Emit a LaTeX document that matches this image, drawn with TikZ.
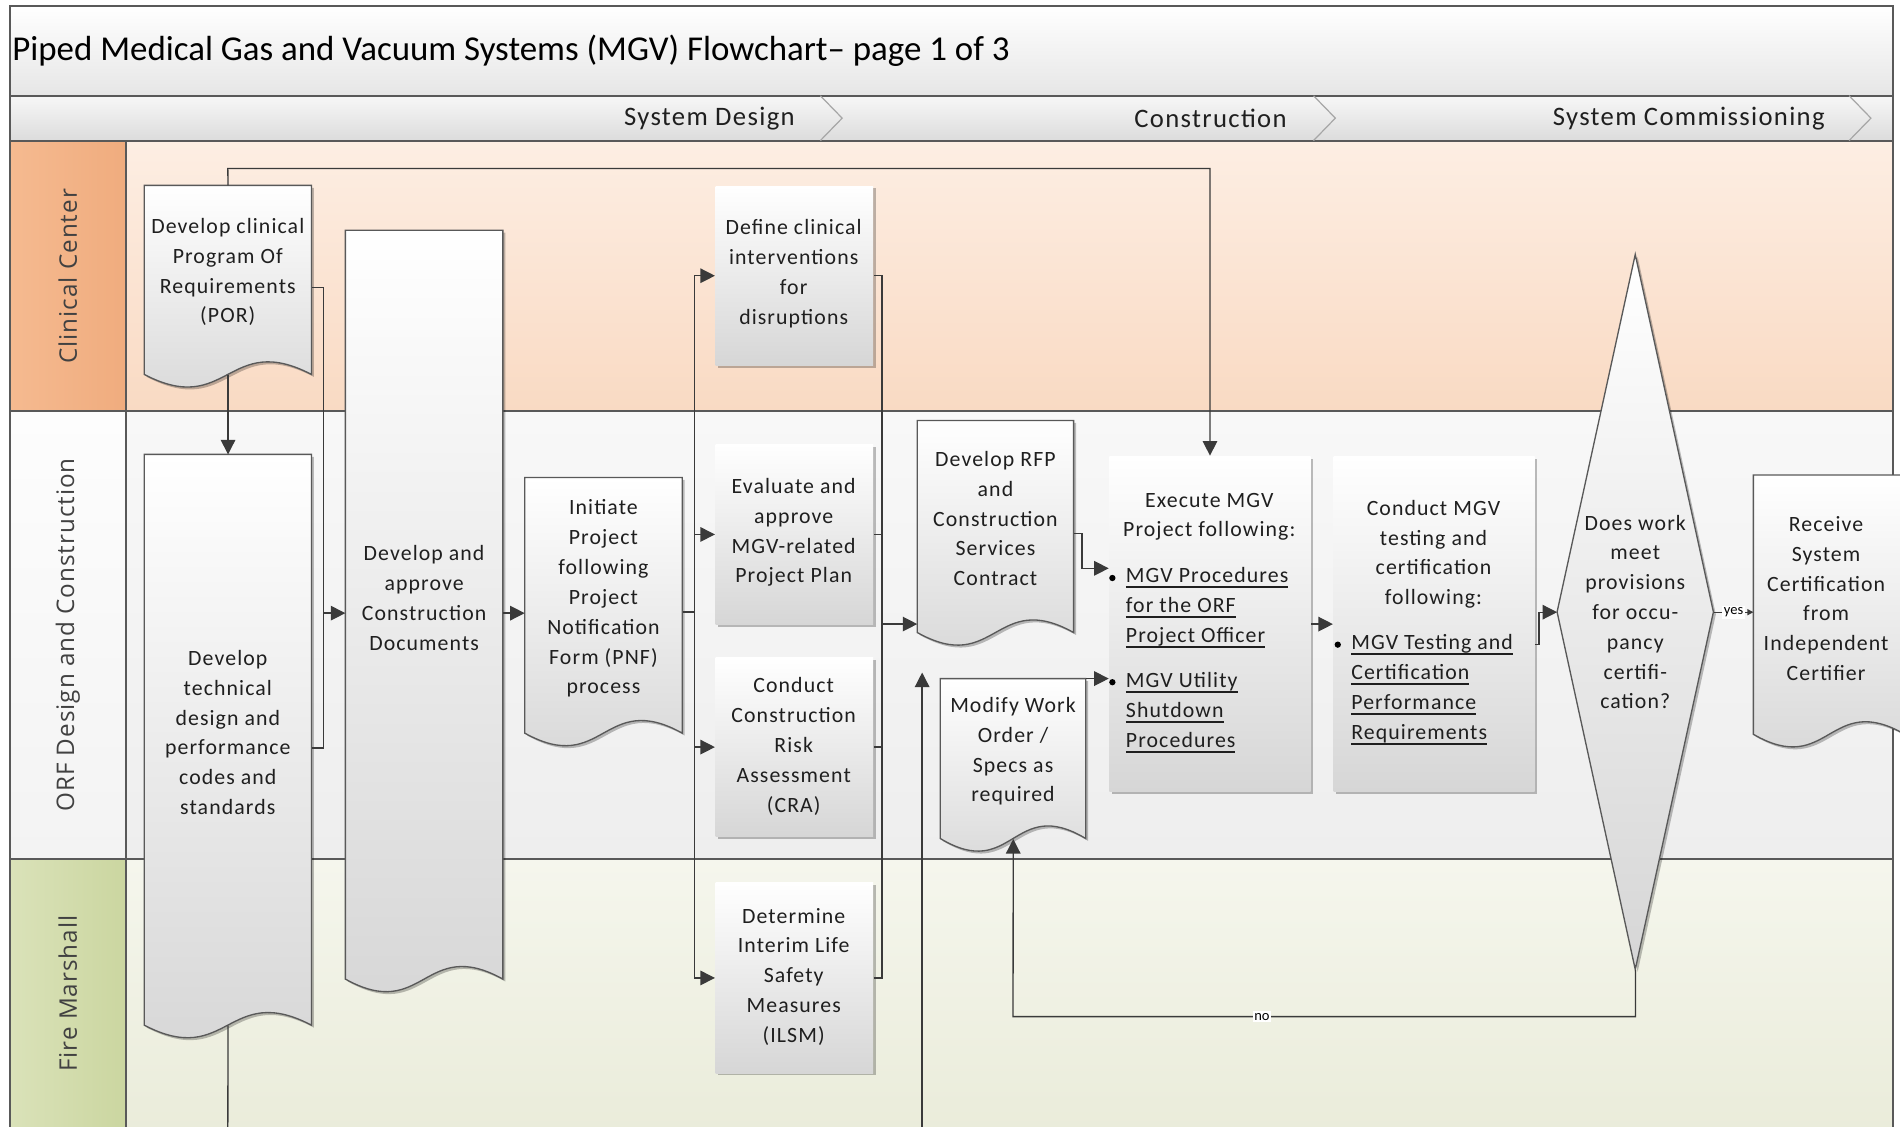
\documentclass[tikz,border=0pt]{standalone}
\usepackage{fontspec}
\setmainfont{Carlito}
\newfontfamily\boxf[LetterSpace=5]{Carlito}
\newfontfamily\lanef[LetterSpace=4]{Open Sans}
\usetikzlibrary{arrows.meta,shadows,calc}
\definecolor{lineC}{HTML}{3A3A3A}
\definecolor{edgeC}{HTML}{595959}
\definecolor{boxB}{HTML}{D6D6D6}
\definecolor{textC}{HTML}{1F1F1F}
\definecolor{titleB}{HTML}{E6E6E6}
\definecolor{phaseT}{HTML}{F7F7F7}
\definecolor{phaseB}{HTML}{DCDCDC}
\definecolor{ccHeadT}{HTML}{F5BA90}
\definecolor{ccHeadB}{HTML}{F0AC7E}
\definecolor{ccBodyT}{HTML}{FDEEE3}
\definecolor{ccBodyB}{HTML}{F9DAC3}
\definecolor{orHeadT}{HTML}{FDFDFD}
\definecolor{orHeadB}{HTML}{F3F3F3}
\definecolor{orBodyT}{HTML}{F8F8F8}
\definecolor{orBodyB}{HTML}{EEEEEE}
\definecolor{fmHeadT}{HTML}{DAE2B9}
\definecolor{fmHeadB}{HTML}{CBD6A0}
\definecolor{fmBodyT}{HTML}{F5F6ED}
\definecolor{fmBodyB}{HTML}{EAECDA}
\newcommand\ulx[1]{\leavevmode\setbox0=\hbox{#1}\rlap{\rule[-4.5pt]{\wd0}{1.4pt}}\box0}
\newcommand\docsh[4]{\path[boxst] (#1,#2) -- (#3,#2) -- (#3,#4) .. controls ({(#1+#3)/2},{#4-36}) and ({(#1+#3)/2},{#4+36}) .. (#1,#4) -- cycle;}
\tikzset{
  frame/.style={draw=edgeC, line width=1.6pt},
  boxst/.style={draw=edgeC, line width=1.1pt, top color=white, bottom color=boxB,
    drop shadow={shadow xshift=2pt, shadow yshift=-2pt, opacity=0.25, fill=black}},
  anchorbox/.style={draw=none, fill=none, inner sep=0, anchor=north west},
  txt/.style={font={\fontsize{18}{24.6}\boxf}, align=center, text=textC, inner sep=0},
  lanet/.style={font={\fontsize{20}{24}\lanef}, text=textC!85, inner sep=0},
  phaset/.style={font={\fontsize{22}{26}\boxf}, text=textC, inner sep=0},
  ln/.style={draw=lineC, line width=1.1pt},
  arr/.style={ln, -{Triangle[length=12pt,width=12pt]}},
  arrS/.style={ln, -{Triangle[length=5pt,width=5pt]}},
  lbl/.style={font={\fontsize{12}{14}\selectfont}, fill=white, inner sep=1.5pt, text=black},
}
\begin{document}
\begin{tikzpicture}[x=1pt,y=-1pt]
\useasboundingbox (0,0) rectangle (1568,930);
\clip (0,0) rectangle (1568,930);
\fill[white] (0,0) rectangle (1568,930);
% bands
\shade[top color=white, bottom color=titleB] (8,5) rectangle (1562,79);
\shade[top color=phaseT, bottom color=phaseB] (8,79) rectangle (1562,116);
% lanes
\shade[left color=ccHeadT, right color=ccHeadB] (8,116) rectangle (104,339);
\shade[top color=ccBodyT, bottom color=ccBodyB] (104,116) rectangle (1562,339);
\shade[top color=orHeadT, bottom color=orHeadB] (8,339) rectangle (104,709);
\shade[top color=orBodyT, bottom color=orBodyB] (104,339) rectangle (1562,709);
\shade[left color=fmHeadT, right color=fmHeadB] (8,709) rectangle (104,935);
\shade[top color=fmBodyT, bottom color=fmBodyB] (104,709) rectangle (1562,935);
\draw[frame] (8,935) -- (8,5) -- (1562,5) -- (1562,935);
\draw[frame] (8,79) -- (1562,79);
\draw[frame] (8,116) -- (1562,116);
\draw[frame] (8,339) -- (1562,339);
\draw[frame] (8,709) -- (1562,709);
\draw[frame] (104,116) -- (104,935);
% chevrons
\draw[gray!70, line width=1pt] (677,79) -- (695,97.5) -- (677,116);
\draw[gray!70, line width=1pt] (1084,79) -- (1102,97.5) -- (1084,116);
\draw[gray!70, line width=1pt] (1526,79) -- (1544,97.5) -- (1526,116);
% title and phases
\node[anchor=west, font={\fontsize{28.8}{34}\selectfont}, text=black, inner sep=0] (title) at (10,42) {Piped Medical Gas and Vacuum Systems (MGV) Flowchart– page 1 of 3};
\node[phaset, anchor=east] (ph1) at (656,97.5) {System Design};
\node[phaset, anchor=east] (ph2) at (1062,97.5) {Construction};
\node[phaset, anchor=east] (ph3) at (1506,97.5) {System Commissioning};
% lane labels
\node[lanet, rotate=90] (lane1) at (56,228) {Clinical Center};
\node[lanet, rotate=90] (lane2) at (56,524) {ORF Design and Construction};
\node[lanet, rotate=90] (lane3) at (56,820) {Fire Marshall};
% document shapes
\docsh{119}{153}{257}{309}
\node[anchorbox, minimum width=138pt, minimum height=156pt] (por) at (119,153) {};
\docsh{119}{375}{257}{846}
\node[anchorbox, minimum width=138pt, minimum height=471pt] (tech) at (119,375) {};
\docsh{285}{190}{415}{808}
\node[anchorbox, minimum width=130pt, minimum height=618pt] (cdocs) at (285,190) {};
\docsh{433}{394}{563}{605}
\node[anchorbox, minimum width=130pt, minimum height=211pt] (init) at (433,394) {};
\docsh{757}{347}{886}{522}
\node[anchorbox, minimum width=129pt, minimum height=175pt] (rfp) at (757,347) {};
\docsh{776}{560}{896}{692}
\node[anchorbox, minimum width=120pt, minimum height=132pt] (modify) at (776,560) {};
\docsh{1447}{392}{1572}{606}
\node[anchorbox, minimum width=125pt, minimum height=214pt] (recv) at (1447,392) {};
% rectangles
\node[boxst, anchorbox, minimum width=130pt, minimum height=148pt] (define) at (590,153) {};
\node[boxst, anchorbox, minimum width=130pt, minimum height=149pt] (evalp) at (590,366) {};
\node[boxst, anchorbox, minimum width=130pt, minimum height=148pt] (cra) at (590,542) {};
\node[boxst, anchorbox, minimum width=130pt, minimum height=157pt] (ilsm) at (590,728) {};
\node[boxst, anchorbox, minimum width=166pt, minimum height=277pt] (exec) at (915,376) {};
\node[boxst, anchorbox, minimum width=166pt, minimum height=277pt] (cmgv) at (1100,376) {};
% decision
\path[boxst] (1349.5,210) -- (1414,505) -- (1349.5,800) -- (1285,505) -- cycle;
\node[anchorbox, minimum width=129pt, minimum height=590pt] (dec) at (1285,210) {};
% texts
\node[txt] (por-t) at (188,224.5) {Develop clinical\\Program Of\\Requirements\\(POR)};
\node[txt] (tech-t) at (188,604.5) {Develop\\technical\\design and\\performance\\codes and\\standards};
\node[txt] (cdocs-t) at (350,493.5) {Develop and\\approve\\Construction\\Documents};
\node[txt] (init-t) at (498,494) {Initiate\\Project\\following\\Project\\Notification\\Form (PNF)\\process};
\node[txt] (define-t) at (655,226) {Define clinical\\interventions\\for\\disruptions};
\node[txt] (evalp-t) at (655,439.5) {Evaluate and\\approve\\MGV-related\\Project Plan};
\node[txt] (cra-t) at (655,616) {Conduct\\Construction\\Risk\\Assessment\\(CRA)};
\node[txt] (ilsm-t) at (655,806) {Determine\\Interim Life\\Safety\\Measures\\(ILSM)};
\node[txt] (rfp-t) at (821.5,428) {Develop RFP\\and\\Construction\\Services\\Contract};
\node[txt] (modify-t) at (836,620) {Modify Work\\Order /\\Specs as\\required};
\node[txt] (exec-t) at (998,426.5) {Execute MGV\\Project following:};
\node[txt, align=left, anchor=west] (exec-b1) at (929,501.5) {\ulx{MGV Procedures}\\\ulx{for the ORF}\\\ulx{Project Officer}};
\node[txt, align=left, anchor=west] (exec-b2) at (929,588) {\ulx{MGV Utility}\\\ulx{Shutdown}\\\ulx{Procedures}};
\node[txt] (cmgv-t) at (1183,457.5) {Conduct MGV\\testing and\\certification\\following:};
\node[txt, align=left, anchor=west] (cmgv-b1) at (1115,569) {\ulx{MGV Testing and}\\\ulx{Certification}\\\ulx{Performance}\\\ulx{Requirements}};
\node[txt] (dec-t) at (1349.5,505) {Does work\\meet\\provisions\\for occu-\\pancy\\certifi-\\cation?};
\node[txt] (recv-t) at (1507,494) {Receive\\System\\Certification\\from\\Independent\\Certifier};
% bullets
\fill[black] (918,477) circle (2.6);
\fill[black] (918,563) circle (2.6);
\fill[black] (1104,532) circle (2.6);
% connectors
\coordinate (topbus) at (188,139);
\draw[arr] (por.north) -- (topbus) -| (exec.north);
\draw[arr] (por.south) -- (tech.north);
\coordinate (offA) at (188,935);
\draw[ln] (tech.south) -- (offA);
\coordinate (busA) at (267,506);
\draw[ln] ([yshift=-6pt]por.east) -| (busA);
\draw[ln] ([yshift=-6.5pt]tech.east) -| (busA);
\draw[arr] (busA) -- (busA -| cdocs.west);
\draw[arr] (cdocs.east |- busA) -- (init.west |- busA);
\coordinate (busB) at (573,505);
\draw[ln] (init.east |- busB) -- (busB);
\draw[arr] (busB) |- (define.west);
\draw[arr] (busB) |- (evalp.west);
\draw[arr] (busB) |- (cra.west);
\draw[arr] (busB) |- (ilsm.west);
\coordinate (busC) at (728,515);
\draw[ln] (define.east) -| (busC);
\draw[ln] (evalp.east) -| (busC);
\draw[ln] (cra.east) -| (busC);
\draw[ln] (ilsm.east) -| (busC);
\draw[arr] (busC) -- (busC -| rfp.west);
\coordinate (offB) at (761,935);
\coordinate (upT) at (761,555);
\draw[arr] (offB) -- (upT);
\coordinate (rfpJ) at (893,469);
\draw[arr] ([yshift=-5.5pt]rfp.east) -| (rfpJ) -- (rfpJ -| exec.west);
\draw[arr] (modify.north east) -- (modify.north east -| exec.west);
\draw[arr] (exec.east) -- (cmgv.west);
\coordinate (cJ) at (1270,532);
\draw[arr] (cmgv.east |- cJ) -- (cJ) |- (dec.west);
\draw[arrS] (dec.east) -- node[lbl] {yes} (recv.west |- dec.east);
\coordinate (noJ) at (836,839);
\draw[arr] (dec.south) |- node[lbl, pos=0.8] {no} (noJ) -- (modify.south);
\end{tikzpicture}
\end{document}
